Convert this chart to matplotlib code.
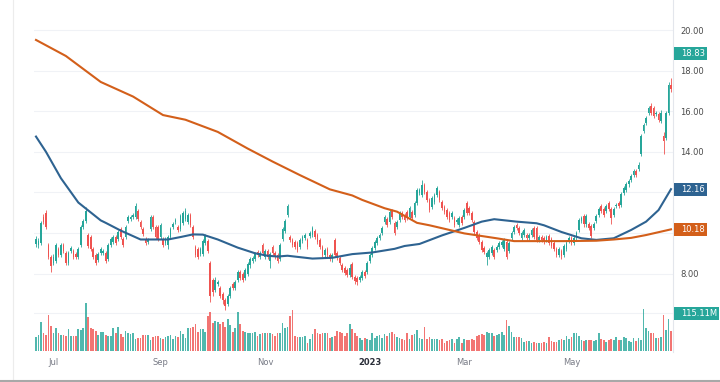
import numpy as np
import matplotlib
matplotlib.use("Agg")
import matplotlib.pyplot as plt
import matplotlib.transforms as mtransforms
from matplotlib.patches import Rectangle
from matplotlib.lines import Line2D

plt.rcParams['font.family'] = ['DejaVu Sans']

# daily candles, late Jun 2022 -> late Jun 2023
opens = [
    9.45, 9.40, 9.50, 10.80, 11.00, 9.40, 8.80, 8.50, 8.60, 9.20,
    8.90, 9.40, 9.00, 8.50, 9.10, 9.10, 8.95, 8.80, 9.40, 10.30,
    10.60, 9.90, 9.80, 9.20, 8.90, 8.65, 9.00, 9.00, 9.00, 8.70,
    9.40, 9.55, 9.80, 9.70, 10.20, 9.70, 9.80, 10.60, 10.70, 10.80,
    10.80, 11.10, 10.55, 10.20, 9.70, 9.55, 10.20, 10.80, 10.30, 10.30,
    9.80, 9.72, 9.50, 9.40, 9.80, 10.30, 10.55, 10.30, 10.20, 10.50,
    10.70, 10.55, 10.90, 10.30, 9.30, 9.20, 8.95, 8.95, 9.50, 9.60,
    8.50, 7.70, 7.20, 7.50, 7.30, 7.00, 6.70, 6.50, 6.90, 7.50,
    7.30, 7.70, 8.10, 8.00, 7.80, 8.00, 8.40, 8.60, 8.70, 9.05,
    8.80, 9.40, 8.80, 9.10, 8.60, 9.30, 9.00, 8.90, 8.70, 9.70,
    10.10, 10.90, 9.82, 9.66, 9.57, 9.50, 9.30, 9.60, 9.75, 9.66,
    9.85, 9.90, 10.10, 9.90, 9.66, 9.33, 8.92, 9.20, 8.92, 8.75,
    9.66, 9.00, 8.75, 8.43, 8.26, 8.20, 7.95, 8.45, 7.85, 7.77,
    7.70, 7.80, 8.10, 8.10, 8.60, 8.92, 9.25, 9.50, 9.74, 10.00,
    10.56, 10.70, 10.56, 11.10, 10.50, 10.30, 10.64, 11.00, 10.90, 11.05,
    10.80, 11.05, 10.89, 11.46, 11.95, 11.87, 12.36, 12.03, 11.62, 11.30,
    11.54, 11.87, 12.03, 11.54, 11.30, 11.13, 10.97, 10.80, 10.72, 10.56,
    10.40, 10.80, 10.80, 11.46, 11.21, 10.97, 10.56, 10.07, 9.90, 9.57,
    9.25, 8.84, 8.84, 9.00, 9.16, 9.16, 9.33, 9.40, 9.20, 9.57,
    9.10, 9.74, 10.07, 10.39, 10.23, 9.74, 9.90, 9.90, 9.74, 9.90,
    10.23, 10.23, 9.66, 9.82, 9.74, 9.66, 9.84, 9.68, 9.51, 9.19,
    8.94, 9.10, 8.94, 9.20, 9.60, 9.76, 9.51, 9.76, 10.17, 10.58,
    10.83, 10.42, 10.42, 10.34, 10.25, 10.58, 10.91, 11.32, 11.16, 11.07,
    11.48, 11.16, 10.91, 11.32, 11.48, 11.40, 11.98, 12.14, 12.39, 12.63,
    12.88, 13.04, 13.13, 13.87, 15.01, 15.43, 15.92, 16.25, 16.16, 15.84,
    15.84, 15.51, 14.77, 14.69, 15.92, 17.31,
]
closes = [
    9.70, 9.60, 10.50, 10.55, 10.30, 8.80, 8.35, 8.80, 9.40, 8.90,
    9.40, 9.10, 8.50, 9.00, 9.25, 8.80, 8.80, 9.20, 10.30, 10.60,
    11.10, 9.35, 9.20, 8.80, 8.50, 8.95, 9.20, 9.10, 8.60, 9.40,
    9.70, 9.80, 9.50, 10.05, 9.80, 9.40, 10.30, 10.80, 10.80, 10.90,
    11.35, 10.70, 10.30, 9.95, 9.50, 9.65, 10.80, 10.30, 9.80, 9.70,
    10.40, 9.39, 9.70, 9.80, 10.20, 10.45, 10.65, 10.15, 10.85, 11.00,
    11.10, 10.90, 10.40, 9.80, 8.90, 8.80, 9.20, 9.60, 9.85, 9.10,
    6.90, 7.10, 7.70, 7.60, 6.90, 6.70, 6.40, 6.90, 7.30, 7.30,
    7.60, 8.10, 7.80, 7.70, 8.20, 8.45, 8.70, 8.75, 8.95, 8.90,
    9.00, 9.00, 9.10, 8.80, 8.95, 9.00, 8.80, 8.60, 9.40, 10.20,
    10.60, 11.35, 9.66, 9.41, 9.33, 9.16, 9.66, 9.82, 9.90, 9.33,
    9.98, 10.23, 9.82, 9.57, 9.33, 8.92, 9.16, 8.92, 8.70, 8.90,
    8.92, 8.75, 8.51, 8.20, 8.02, 7.95, 8.30, 7.85, 7.64, 7.61,
    7.85, 8.10, 7.90, 8.51, 8.92, 9.25, 9.57, 9.74, 9.90, 10.23,
    10.80, 10.40, 11.05, 10.80, 10.00, 10.56, 10.97, 10.80, 10.64, 10.72,
    11.21, 10.72, 11.46, 12.11, 12.11, 12.36, 12.03, 11.62, 11.13, 11.70,
    11.87, 12.20, 11.62, 11.21, 11.05, 10.80, 10.64, 10.97, 10.39, 10.64,
    10.72, 10.48, 11.13, 10.97, 10.97, 10.64, 10.07, 9.74, 9.57, 9.16,
    9.08, 9.00, 9.16, 9.33, 8.84, 9.33, 9.49, 9.57, 9.66, 8.84,
    9.50, 9.98, 10.31, 10.23, 9.98, 9.98, 10.15, 9.74, 9.90, 10.15,
    9.82, 9.66, 9.82, 9.66, 9.57, 9.82, 9.51, 9.35, 9.19, 8.94,
    9.19, 8.86, 9.35, 9.51, 9.76, 9.51, 9.76, 10.00, 10.66, 10.75,
    10.42, 10.83, 10.25, 9.84, 10.42, 10.83, 11.20, 11.07, 10.91, 11.32,
    11.16, 10.75, 11.16, 11.40, 11.32, 11.90, 12.22, 12.39, 12.55, 12.80,
    13.04, 12.88, 13.37, 14.77, 15.34, 15.67, 16.16, 15.92, 15.75, 15.92,
    15.59, 15.92, 14.52, 15.92, 17.31, 17.07,
]
highs = [
    9.85, 9.75, 10.60, 10.95, 11.15, 9.50, 8.90, 8.95, 9.50, 9.30,
    9.50, 9.50, 9.10, 9.10, 9.35, 9.20, 9.05, 9.30, 10.40, 10.70,
    11.30, 10.00, 9.90, 9.30, 9.00, 9.05, 9.30, 9.20, 9.10, 9.50,
    9.80, 9.90, 9.90, 10.15, 10.30, 9.80, 10.40, 10.90, 10.90, 11.00,
    11.50, 11.20, 10.65, 10.30, 9.80, 9.75, 10.90, 10.90, 10.40, 10.40,
    10.50, 9.80, 9.80, 9.90, 10.30, 10.55, 10.75, 10.40, 10.95, 11.10,
    11.25, 11.00, 11.00, 10.40, 9.40, 9.30, 9.30, 9.70, 9.95, 9.70,
    8.60, 7.80, 7.85, 7.70, 7.40, 7.10, 6.80, 7.00, 7.40, 7.60,
    7.70, 8.20, 8.20, 8.10, 8.30, 8.55, 8.80, 8.85, 9.05, 9.15,
    9.10, 9.50, 9.20, 9.20, 9.05, 9.40, 9.10, 9.00, 9.50, 10.30,
    10.70, 11.45, 9.92, 9.76, 9.67, 9.60, 9.76, 9.92, 10.00, 9.76,
    10.08, 10.33, 10.20, 10.00, 9.76, 9.43, 9.26, 9.30, 9.02, 9.00,
    9.76, 9.10, 8.85, 8.53, 8.36, 8.30, 8.45, 8.55, 7.95, 7.87,
    7.95, 8.20, 8.20, 8.61, 9.02, 9.35, 9.67, 9.84, 10.00, 10.33,
    10.90, 10.80, 11.15, 11.20, 10.60, 10.66, 11.07, 11.10, 11.00, 11.15,
    11.31, 11.15, 11.56, 12.21, 12.21, 12.61, 12.46, 12.13, 11.72, 11.80,
    11.97, 12.30, 12.13, 11.64, 11.40, 11.23, 11.07, 11.07, 10.82, 10.74,
    10.82, 10.90, 11.23, 11.56, 11.31, 11.07, 10.66, 10.17, 10.00, 9.67,
    9.35, 9.10, 9.26, 9.43, 9.26, 9.43, 9.59, 9.67, 9.76, 9.67,
    9.60, 10.08, 10.41, 10.49, 10.33, 10.08, 10.25, 10.00, 10.00, 10.25,
    10.33, 10.33, 9.92, 9.92, 9.84, 9.92, 9.94, 9.78, 9.61, 9.29,
    9.29, 9.20, 9.45, 9.61, 9.86, 9.86, 9.86, 10.10, 10.76, 10.85,
    10.93, 10.95, 10.52, 10.44, 10.52, 10.93, 11.30, 11.42, 11.26, 11.42,
    11.58, 11.26, 11.26, 11.50, 11.58, 12.00, 12.32, 12.49, 12.65, 12.90,
    13.14, 13.14, 13.50, 14.87, 15.44, 15.77, 16.26, 16.40, 16.26, 16.02,
    15.94, 16.05, 15.00, 16.02, 17.45, 17.65,
]
lows = [
    9.30, 9.25, 9.40, 10.45, 10.20, 8.70, 8.10, 8.40, 8.50, 8.80,
    8.80, 9.00, 8.40, 8.40, 9.00, 8.70, 8.70, 8.70, 9.30, 10.20,
    10.50, 9.25, 9.10, 8.70, 8.40, 8.55, 8.90, 8.90, 8.50, 8.60,
    9.30, 9.45, 9.40, 9.60, 9.70, 9.30, 9.70, 10.50, 10.60, 10.70,
    10.70, 10.60, 10.20, 9.85, 9.40, 9.45, 10.10, 10.20, 9.70, 9.60,
    9.70, 9.30, 9.40, 9.20, 9.70, 10.20, 10.45, 10.05, 10.10, 10.40,
    10.60, 10.45, 10.30, 9.70, 8.80, 8.70, 8.85, 8.85, 9.40, 9.00,
    6.60, 6.90, 7.10, 7.40, 6.80, 6.50, 6.20, 6.40, 6.80, 7.20,
    7.20, 7.60, 7.70, 7.60, 7.70, 7.90, 8.30, 8.50, 8.60, 8.80,
    8.70, 8.90, 8.70, 8.70, 8.30, 8.90, 8.70, 8.50, 8.60, 9.60,
    10.00, 10.80, 9.56, 9.31, 9.23, 9.06, 9.20, 9.50, 9.65, 9.23,
    9.75, 9.80, 9.72, 9.47, 9.23, 8.82, 8.82, 8.82, 8.60, 8.55,
    8.82, 8.65, 8.41, 8.10, 7.92, 7.85, 7.85, 7.75, 7.50, 7.45,
    7.60, 7.70, 7.80, 8.00, 8.50, 8.82, 9.15, 9.40, 9.64, 9.90,
    10.46, 10.30, 10.46, 10.70, 9.90, 10.20, 10.54, 10.70, 10.54, 10.62,
    10.70, 10.62, 10.79, 11.36, 11.85, 11.77, 11.93, 11.52, 11.03, 11.20,
    11.44, 11.77, 11.52, 11.11, 10.95, 10.70, 10.54, 10.70, 10.29, 10.46,
    10.30, 10.38, 10.70, 10.87, 10.87, 10.54, 9.97, 9.64, 9.47, 9.06,
    8.98, 8.43, 8.74, 8.90, 8.74, 9.06, 9.23, 9.30, 9.10, 8.74,
    9.00, 9.64, 9.97, 10.13, 9.88, 9.64, 9.80, 9.64, 9.64, 9.80,
    9.72, 9.56, 9.56, 9.56, 9.47, 9.56, 9.41, 9.25, 9.09, 8.84,
    8.84, 8.70, 8.84, 9.10, 9.50, 9.41, 9.41, 9.66, 10.07, 10.48,
    10.32, 10.32, 10.15, 9.74, 10.15, 10.48, 10.81, 10.97, 10.81, 10.97,
    11.06, 10.45, 10.81, 11.22, 11.22, 11.30, 11.88, 12.04, 12.29, 12.53,
    12.78, 12.78, 13.03, 13.77, 14.91, 15.33, 15.82, 15.82, 15.65, 15.74,
    15.49, 15.41, 13.90, 14.59, 15.82, 16.97,
]
# volume in millions
volumes = [
    41, 49, 87, 54, 49, 110, 76, 54, 71, 54,
    49, 49, 44, 67, 44, 44, 46, 67, 64, 69,
    144, 103, 69, 66, 61, 49, 59, 57, 49, 44,
    44, 69, 54, 72, 52, 42, 61, 54, 51, 54,
    37, 39, 39, 49, 47, 47, 32, 42, 44, 46,
    39, 37, 42, 44, 49, 36, 44, 42, 61, 52,
    39, 69, 69, 74, 83, 59, 66, 66, 59, 107,
    117, 85, 90, 87, 83, 87, 74, 97, 79, 59,
    69, 117, 81, 61, 59, 54, 56, 54, 59, 44,
    51, 54, 54, 56, 56, 52, 46, 54, 56, 85,
    71, 72, 105, 125, 46, 42, 42, 42, 46, 25,
    36, 52, 66, 56, 51, 54, 54, 56, 39, 41,
    46, 62, 59, 54, 44, 54, 81, 66, 54, 44,
    39, 34, 39, 36, 34, 56, 39, 44, 49,
    39, 51, 46, 54, 59, 51, 42, 39, 36, 34,
    54, 36, 49, 52, 64, 39, 36, 72, 36, 41, 36, 36, 36, 34, 36,
    23, 31, 34, 36, 25, 36, 42, 25, 36, 34, 34, 36, 34, 44, 49, 52, 49, 57, 54, 56,
    46, 47, 52, 59, 49, 95, 76, 59, 41, 41, 41, 39, 28, 31, 31, 25, 28, 25, 25, 25,
    28, 25, 42, 31, 28, 28, 34, 36, 32, 46, 36, 42, 54, 56, 44, 34, 31, 34, 32, 34,
    31, 32, 54, 36, 32, 28, 32, 36, 34, 42, 32, 34, 42, 39, 31, 28, 39, 31, 39, 34,
    127, 69, 62, 54, 54, 39, 39,
    42, 110, 64, 97, 62,
]

# moving averages (candle index, value)
ma50_idx = [0, 4, 10, 17, 26, 28, 34, 42, 48, 53, 58, 63, 67, 73, 75, 81, 88, 93,
            97, 101, 111, 119, 127, 135, 144, 148, 154, 163, 172, 179, 184, 193,
            201, 204, 211, 219, 225, 232, 239, 245, 250, 255]
ma50_val = [14.75, 14.0, 12.7, 11.5, 10.62, 10.5, 10.12, 9.68, 9.68, 9.68, 9.8, 9.93,
            9.92, 9.68, 9.58, 9.28, 9.0, 8.88, 8.84, 8.88, 8.74, 8.78, 8.96, 9.04,
            9.22, 9.36, 9.46, 9.88, 10.25, 10.56, 10.68, 10.56, 10.48, 10.38, 10.05,
            9.74, 9.66, 9.74, 10.15, 10.56, 11.13, 12.16]
ma200_idx = [0, 12, 26, 39, 51, 60, 73, 85, 95, 106, 118, 127, 131, 140, 145, 153,
             158, 172, 185, 192, 212, 225, 232, 239, 245, 255]
ma200_val = [19.51, 18.72, 17.44, 16.72, 15.81, 15.58, 14.98, 14.16, 13.52, 12.85,
             12.15, 11.85, 11.63, 11.22, 11.05, 10.5, 10.38, 9.98, 9.74, 9.6, 9.6,
             9.62, 9.68, 9.76, 9.9, 10.18]

last_price = 18.83
last_volume = 115.11
price_ticks = [8, 10, 12, 14, 16, 18, 20]
hidden_ticks = [10, 12]  # covered by the MA value tags
month_pos = [7, 50, 92, 134, 172, 215]
month_labels = ['Jul', 'Sep', 'Nov', '2023', 'Mar', 'May']

GREEN = '#26a69a'
RED = '#ef5350'
BLUE = '#2e6391'
ORANGE = '#d35f1a'

o = np.array(opens)
c = np.array(closes)
h = np.array(highs)
l = np.array(lows)
x = np.arange(len(c))
col = np.where(c >= o, GREEN, RED)

fig = plt.figure(figsize=(7.2, 3.82), dpi=100)
W, H = 720, 382
left, right = 34, 673
ax = fig.add_axes([left / W, 1 - 352 / H, (right - left) / W, 352 / H])
vax = fig.add_axes([left / W, 1 - 351 / H, (right - left) / W, 351 / H])
vax.patch.set_alpha(0)

step = (671 - 36) / (len(x) - 1)
xlim = (-(36 - left) / step, len(x) - 1 + (right - 671) / step)

# price panel
ax.vlines(x, l, h, colors=col, lw=0.6, zorder=3)
body = np.maximum(np.abs(c - o), 0.03)
ax.bar(x, body, bottom=np.minimum(o, c), width=0.68, color=col, lw=0, zorder=3)
ax.plot(ma50_idx, ma50_val, color=BLUE, lw=1.5, zorder=4)
ax.plot(ma200_idx, ma200_val, color=ORANGE, lw=1.5, zorder=4)

ax.set_xlim(*xlim)
ax.set_ylim(20 - (352 - 30) / 20.3, 20 + 30 / 20.3)
ax.set_xticks([])
ax.yaxis.tick_right()
ax.set_yticks(price_ticks)
ax.set_yticklabels(['' if v in hidden_ticks else f'{v:.2f}' for v in price_ticks])
ax.tick_params(axis='y', length=0, pad=5, labelsize=6, labelcolor='#4a4a4a')
ax.grid(axis='y', color='#f0f2f6', lw=0.8)
ax.set_axisbelow(True)
for s in ['left', 'top', 'bottom']:
    ax.spines[s].set_visible(False)
ax.spines['right'].set_color('#e3e6ec')
ax.spines['right'].set_linewidth(0.8)

# volume panel
vmax = last_volume * 351 / 38
vax.bar(x, volumes, width=0.68, color=col, alpha=0.8, lw=0)
vax.axhline(last_volume, color='#f0f2f6', lw=0.8, zorder=0)
vax.set_xlim(*xlim)
vax.set_ylim(0, vmax)
vax.set_yticks([])
vax.set_xticks(month_pos)
vax.set_xticklabels(month_labels)
vax.tick_params(axis='x', length=0, pad=5, labelsize=6, labelcolor='#787b86')
for lbl in vax.get_xticklabels():
    if lbl.get_text() == '2023':
        lbl.set_fontweight('bold')
        lbl.set_color('#2a2e39')
for s in vax.spines.values():
    s.set_visible(False)


def tag(axis, value, text, color, w_px, px_per_unit):
    tr = mtransforms.blended_transform_factory(axis.transAxes, axis.transData)
    hh = 13 / px_per_unit
    axis.add_patch(Rectangle((1.0015, value - hh / 2), w_px / (right - left), hh,
                             transform=tr, clip_on=False, fc=color, ec='none', zorder=10))
    axis.text(1.0015 + 7 / (right - left), value, text, transform=tr, clip_on=False,
              ha='left', va='center', color='white', fontsize=6, zorder=11)


tag(ax, last_price, f'{last_price:.2f}', GREEN, 33, 20.3)
tag(ax, ma50_val[-1], f'{ma50_val[-1]:.2f}', BLUE, 33, 20.3)
tag(ax, ma200_val[-1], f'{ma200_val[-1]:.2f}', ORANGE, 33, 20.3)
tag(vax, last_volume, f'{last_volume:.2f}M', GREEN, 45, 351 / vmax)

# frame lines
fig.add_artist(Line2D([13 / W, 13 / W], [0, 1], color='#ececec', lw=0.8))
fig.add_artist(Line2D([0, 1], [1.5 / H, 1.5 / H], color='#a8a8a8', lw=1.5))

fig.savefig('out.png', dpi=100)
